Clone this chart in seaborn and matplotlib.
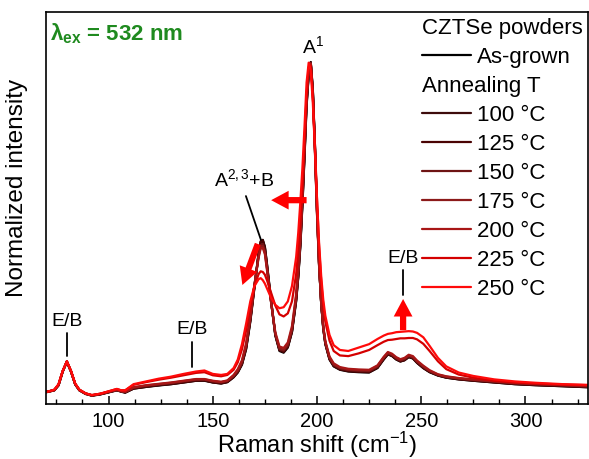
import matplotlib
matplotlib.use("Agg")
import matplotlib.pyplot as plt
import seaborn as sns
from matplotlib.lines import Line2D
from matplotlib.ticker import MultipleLocator

sns.set_theme(style="white")
plt.rcParams["font.family"] = ["Liberation Sans", "DejaVu Sans"]
plt.rcParams["mathtext.fontset"] = "custom"
plt.rcParams["mathtext.rm"] = "Liberation Sans"
plt.rcParams["mathtext.it"] = "Liberation Sans:italic"
plt.rcParams["mathtext.bf"] = "Liberation Sans:bold"
plt.rcParams["text.color"] = "black"
plt.rcParams["axes.labelcolor"] = "black"
plt.rcParams["xtick.color"] = "black"
plt.rcParams["ytick.color"] = "black"

# ---------------- data ----------------
raman_shift = [70, 72, 74, 76, 78, 80, 82, 84, 86, 89,
               92, 96, 100, 104, 106, 108, 112, 118, 124, 130,
               136, 142, 146, 150, 154, 157, 160, 162, 164, 166,
               168, 170, 172, 173, 174, 175, 176, 178, 180, 182,
               184, 186, 188, 190, 191, 192, 193, 194, 195, 196,
               197, 198, 199, 200, 201, 202, 203, 204, 206, 208,
               211, 215, 220, 225, 229, 232, 234, 236, 238, 240,
               242, 244, 246, 248, 251, 254, 258, 262, 268, 275,
               285, 295, 305, 318, 330]

as_grown = [0.035, 0.037, 0.040, 0.055, 0.095, 0.124, 0.095, 0.058, 0.040, 0.030,
            0.024, 0.028, 0.034, 0.040, 0.036, 0.033, 0.045, 0.050, 0.054, 0.058,
            0.063, 0.068, 0.068, 0.063, 0.060, 0.064, 0.078, 0.092, 0.115, 0.160,
            0.240, 0.340, 0.440, 0.475, 0.480, 0.460, 0.410, 0.300, 0.200, 0.155,
            0.150, 0.165, 0.210, 0.300, 0.370, 0.460, 0.580, 0.720, 0.870, 0.960,
            1.000, 0.920, 0.760, 0.570, 0.410, 0.295, 0.220, 0.175, 0.130, 0.110,
            0.100, 0.095, 0.093, 0.092, 0.105, 0.130, 0.145, 0.140, 0.130, 0.124,
            0.128, 0.137, 0.133, 0.120, 0.105, 0.093, 0.083, 0.077, 0.072, 0.068,
            0.063, 0.058, 0.055, 0.052, 0.049]

t100 = [0.034, 0.037, 0.041, 0.056, 0.096, 0.123, 0.094, 0.057, 0.040, 0.029,
        0.025, 0.029, 0.035, 0.041, 0.037, 0.034, 0.046, 0.051, 0.055, 0.059,
        0.064, 0.069, 0.069, 0.064, 0.061, 0.065, 0.079, 0.094, 0.118, 0.165,
        0.245, 0.345, 0.440, 0.472, 0.476, 0.455, 0.405, 0.298, 0.202, 0.158,
        0.153, 0.168, 0.213, 0.305, 0.375, 0.468, 0.590, 0.730, 0.880, 0.965,
        0.998, 0.915, 0.752, 0.565, 0.408, 0.295, 0.222, 0.177, 0.132, 0.112,
        0.102, 0.097, 0.095, 0.094, 0.107, 0.132, 0.146, 0.141, 0.131, 0.125,
        0.129, 0.138, 0.134, 0.121, 0.106, 0.094, 0.084, 0.078, 0.073, 0.069,
        0.064, 0.059, 0.056, 0.053, 0.050]

t125 = [0.036, 0.038, 0.040, 0.054, 0.094, 0.125, 0.096, 0.058, 0.041, 0.031,
        0.025, 0.028, 0.034, 0.040, 0.037, 0.034, 0.045, 0.050, 0.055, 0.058,
        0.063, 0.068, 0.069, 0.063, 0.060, 0.064, 0.079, 0.093, 0.116, 0.162,
        0.243, 0.343, 0.442, 0.476, 0.479, 0.458, 0.408, 0.302, 0.203, 0.157,
        0.152, 0.167, 0.212, 0.303, 0.372, 0.464, 0.585, 0.725, 0.875, 0.962,
        0.999, 0.918, 0.756, 0.568, 0.410, 0.296, 0.221, 0.176, 0.131, 0.111,
        0.101, 0.096, 0.094, 0.093, 0.106, 0.131, 0.146, 0.141, 0.131, 0.125,
        0.128, 0.138, 0.134, 0.121, 0.105, 0.094, 0.084, 0.077, 0.072, 0.068,
        0.063, 0.058, 0.055, 0.052, 0.049]

t150 = [0.035, 0.038, 0.041, 0.055, 0.095, 0.123, 0.095, 0.059, 0.041, 0.030,
        0.025, 0.029, 0.035, 0.041, 0.037, 0.035, 0.047, 0.053, 0.057, 0.061,
        0.066, 0.071, 0.071, 0.066, 0.063, 0.067, 0.081, 0.096, 0.120, 0.168,
        0.248, 0.345, 0.435, 0.465, 0.468, 0.448, 0.400, 0.297, 0.204, 0.160,
        0.156, 0.171, 0.216, 0.308, 0.380, 0.472, 0.595, 0.735, 0.885, 0.968,
        0.997, 0.912, 0.748, 0.562, 0.406, 0.296, 0.224, 0.179, 0.134, 0.114,
        0.104, 0.099, 0.097, 0.096, 0.109, 0.134, 0.148, 0.143, 0.133, 0.127,
        0.131, 0.140, 0.136, 0.123, 0.108, 0.096, 0.085, 0.079, 0.074, 0.070,
        0.065, 0.060, 0.057, 0.054, 0.051]

t175 = [0.035, 0.037, 0.040, 0.056, 0.096, 0.124, 0.096, 0.058, 0.040, 0.030,
        0.025, 0.029, 0.035, 0.041, 0.037, 0.035, 0.048, 0.054, 0.058, 0.062,
        0.067, 0.072, 0.072, 0.067, 0.064, 0.068, 0.083, 0.099, 0.124, 0.172,
        0.252, 0.348, 0.432, 0.460, 0.462, 0.443, 0.396, 0.296, 0.206, 0.163,
        0.159, 0.175, 0.221, 0.315, 0.388, 0.480, 0.605, 0.745, 0.892, 0.972,
        0.996, 0.908, 0.744, 0.558, 0.404, 0.297, 0.226, 0.181, 0.136, 0.116,
        0.106, 0.101, 0.099, 0.098, 0.111, 0.136, 0.150, 0.145, 0.135, 0.129,
        0.133, 0.142, 0.138, 0.125, 0.110, 0.097, 0.086, 0.080, 0.075, 0.071,
        0.066, 0.061, 0.058, 0.055, 0.052]

t200 = [0.036, 0.038, 0.041, 0.055, 0.095, 0.124, 0.095, 0.059, 0.041, 0.031,
        0.026, 0.030, 0.036, 0.042, 0.038, 0.036, 0.049, 0.055, 0.059, 0.063,
        0.068, 0.073, 0.073, 0.068, 0.065, 0.069, 0.085, 0.102, 0.128, 0.178,
        0.258, 0.350, 0.428, 0.455, 0.456, 0.438, 0.392, 0.297, 0.210, 0.168,
        0.164, 0.180, 0.228, 0.322, 0.395, 0.488, 0.615, 0.755, 0.900, 0.976,
        0.995, 0.904, 0.740, 0.555, 0.403, 0.298, 0.228, 0.184, 0.139, 0.119,
        0.108, 0.103, 0.101, 0.100, 0.113, 0.138, 0.152, 0.147, 0.137, 0.131,
        0.135, 0.144, 0.140, 0.127, 0.112, 0.099, 0.087, 0.081, 0.076, 0.072,
        0.067, 0.062, 0.059, 0.056, 0.053]

t225 = [0.035, 0.038, 0.042, 0.057, 0.096, 0.125, 0.096, 0.059, 0.042, 0.031,
        0.026, 0.030, 0.037, 0.044, 0.040, 0.040, 0.056, 0.064, 0.071, 0.077,
        0.084, 0.091, 0.093, 0.084, 0.081, 0.085, 0.100, 0.122, 0.160, 0.215,
        0.285, 0.345, 0.380, 0.388, 0.386, 0.378, 0.362, 0.325, 0.288, 0.262,
        0.256, 0.265, 0.300, 0.380, 0.450, 0.535, 0.640, 0.765, 0.905, 0.985,
        0.990, 0.900, 0.760, 0.600, 0.460, 0.360, 0.290, 0.240, 0.185, 0.155,
        0.142, 0.140, 0.148, 0.158, 0.172, 0.182, 0.187, 0.188, 0.190, 0.192,
        0.192, 0.193, 0.193, 0.189, 0.176, 0.155, 0.125, 0.102, 0.086, 0.077,
        0.068, 0.063, 0.060, 0.057, 0.055]

t250 = [0.035, 0.038, 0.042, 0.058, 0.097, 0.125, 0.097, 0.060, 0.042, 0.031,
        0.026, 0.030, 0.037, 0.044, 0.040, 0.040, 0.058, 0.066, 0.074, 0.080,
        0.088, 0.095, 0.098, 0.088, 0.085, 0.088, 0.105, 0.130, 0.175, 0.235,
        0.300, 0.345, 0.365, 0.368, 0.362, 0.352, 0.338, 0.310, 0.290, 0.280,
        0.283, 0.300, 0.345, 0.430, 0.500, 0.590, 0.690, 0.810, 0.940, 0.998,
        0.975, 0.880, 0.745, 0.600, 0.470, 0.375, 0.305, 0.258, 0.202, 0.172,
        0.158, 0.155, 0.165, 0.175, 0.190, 0.200, 0.205, 0.207, 0.210, 0.211,
        0.212, 0.213, 0.212, 0.208, 0.195, 0.170, 0.135, 0.110, 0.092, 0.082,
        0.072, 0.066, 0.062, 0.058, 0.056]

anneal_temps = [100, 125, 150, 175, 200, 225, 250]
anneal_series = [t100, t125, t150, t175, t200, t225, t250]
anneal_colors = ["#3d0b0b", "#4a0303", "#6e1414", "#8c1a1a", "#a81616", "#d40000", "#ff0a0a"]
asgrown_color = "#000000"

# ---------------- figure ----------------
W, H = 589, 459
fig = plt.figure(figsize=(W / 100, H / 100), dpi=100)
ax = fig.add_axes([46 / W, 55 / H, 542 / W, 392 / H])

lw = 1.6
sns.lineplot(x=raman_shift, y=as_grown, color=asgrown_color, lw=lw, ax=ax, legend=False)
for ys, c in zip(anneal_series, anneal_colors):
    sns.lineplot(x=raman_shift, y=ys, color=c, lw=lw, ax=ax, legend=False)

ax.set_xlim(70, 330)
ax.set_ylim(0, 392 / 342)
ax.xaxis.set_major_locator(MultipleLocator(50))
ax.xaxis.set_minor_locator(MultipleLocator(12.5))
ax.set_yticks([])
ax.tick_params(axis="x", which="major", direction="in", length=6, width=1.1,
               labelsize=14.5, pad=6, bottom=True, top=False)
ax.tick_params(axis="x", which="minor", direction="in", length=3.5, width=1.0,
               bottom=True, top=False)
for s in ax.spines.values():
    s.set_color("black")
    s.set_linewidth(1.2)

ax.set_xlabel("Raman shift (cm$^{-1}$)", fontsize=17, labelpad=-1)
ax.set_ylabel("Normalized intensity", fontsize=17.5)
ax.yaxis.set_label_coords(-0.034, 0.55)

# ---------------- annotations ----------------
ax.text(0.008, 0.975, r"$\mathbf{\lambda_{ex}}$ = 532 nm", transform=ax.transAxes,
        color="#1f8a1f", fontsize=16, fontweight="bold", va="top", ha="left")

ann_fs = 14
ax.text(198.1, 1.015, "A$^{1}$", fontsize=ann_fs, ha="center", va="bottom")
ax.text(165.0, 0.625, "A$^{2,3}$+B", fontsize=ann_fs, ha="center", va="bottom")
ax.plot([165.9, 173.1], [0.608, 0.48], color="black", lw=1.3)

# E/B labels with ticks
for xc, ytxt, y0, y1 in [(80.3, 0.216, 0.208, 0.140),
                         (139.9, 0.193, 0.181, 0.108),
                         (241.3, 0.400, 0.392, 0.319)]:
    ax.text(xc, ytxt, "E/B", fontsize=ann_fs, ha="center", va="bottom")
    ax.plot([xc, xc], [y0, y1], color="black", lw=1.3)

arrow_kw = dict(arrowstyle="simple,head_length=0.7,head_width=0.75,tail_width=0.25",
                color="#ff0000", lw=0, shrinkA=0, shrinkB=0, mutation_scale=18)
ax.annotate("", xy=(178.0, 0.596), xytext=(195.0, 0.596), arrowprops=arrow_kw)
ax.annotate("", xy=(164.2, 0.348), xytext=(171.6, 0.468), arrowprops=arrow_kw)
ax.annotate("", xy=(241.3, 0.307), xytext=(241.3, 0.216), arrowprops=arrow_kw)

# ---------------- legend ----------------
handles = [Line2D([], [], alpha=0), Line2D([], [], color=asgrown_color, lw=lw),
           Line2D([], [], alpha=0)]
handles += [Line2D([], [], color=c, lw=lw) for c in anneal_colors]
labels = ["CZTSe powders", "As-grown", "Annealing T"] + [f"{t} °C" for t in anneal_temps]
headers = {"CZTSe powders", "Annealing T"}
leg = ax.legend(handles, labels, loc="upper right", frameon=False, fontsize=16,
                handlelength=2.2, handletextpad=0.3, labelspacing=0.36,
                borderaxespad=0.1, borderpad=0.15)
for col in leg._legend_handle_box.get_children():
    for row in col.get_children():
        da, tb = row.get_children()
        if tb._text.get_text() in headers:
            da.width = 0
            row.sep = 0

fig.savefig("out.png", dpi=100)
